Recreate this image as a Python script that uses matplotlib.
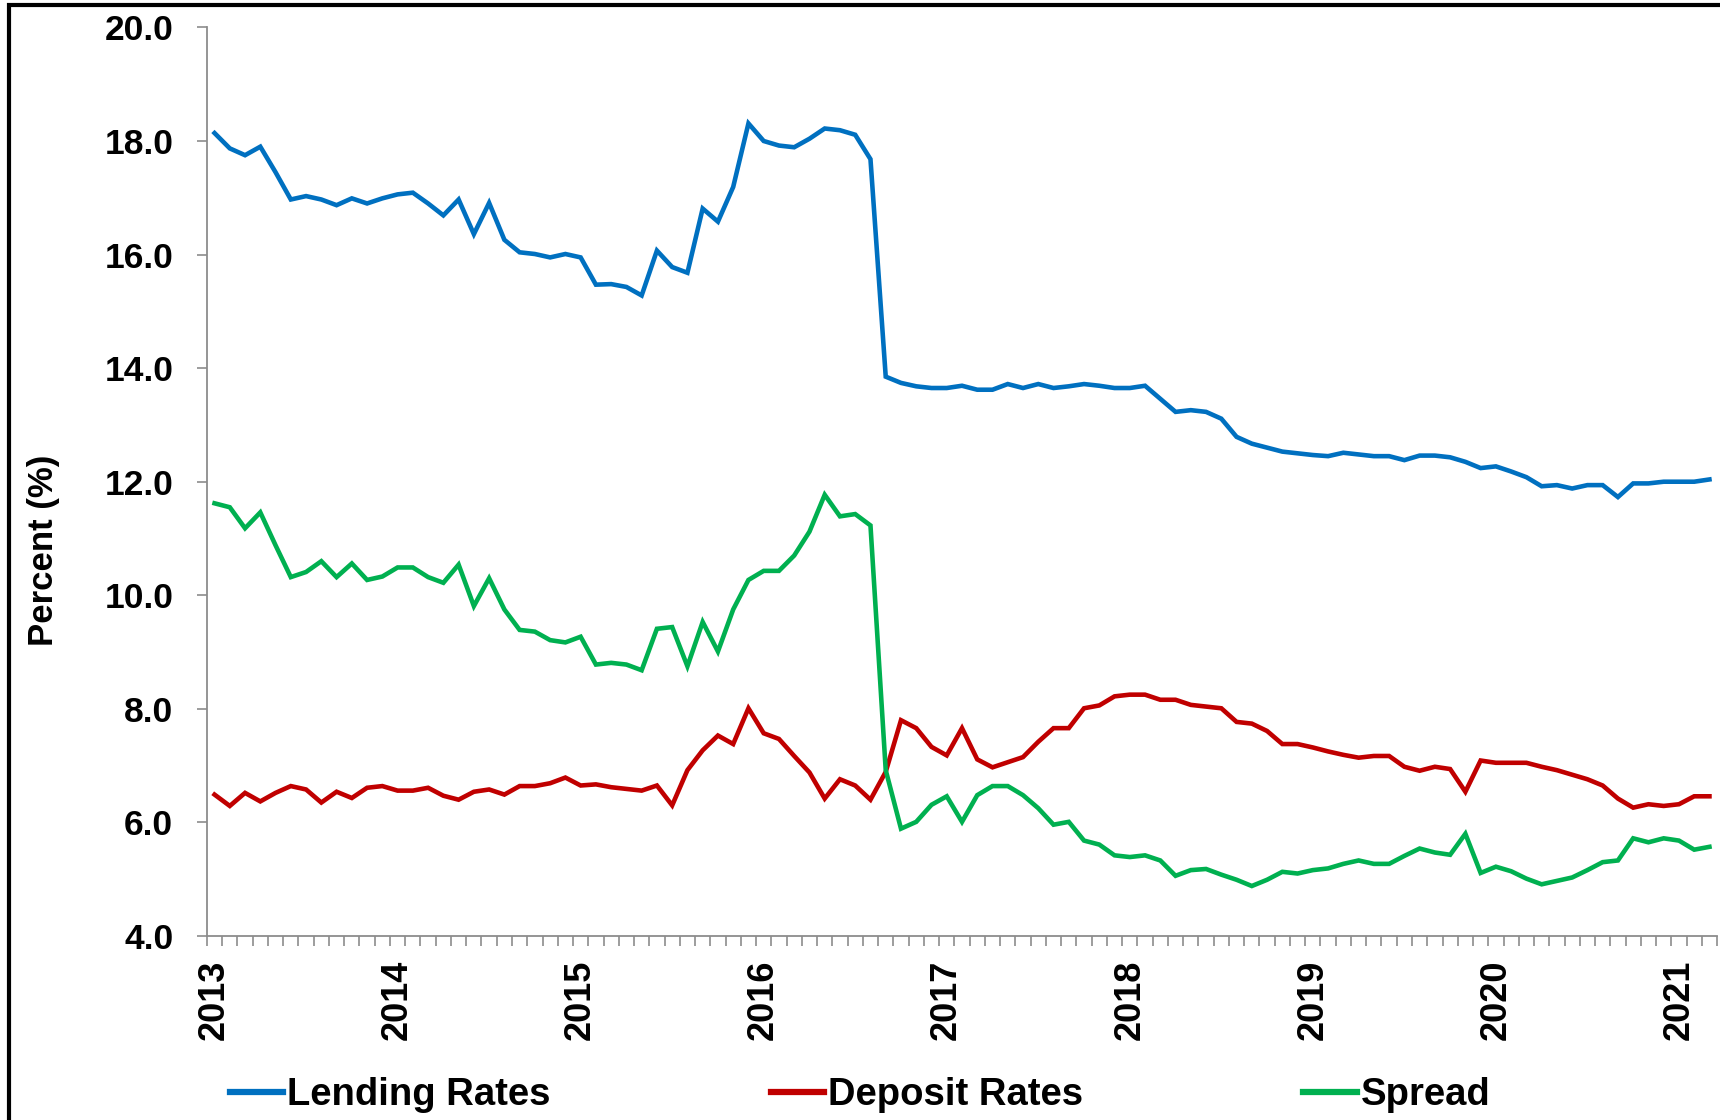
import numpy as np
import pandas as pd
import matplotlib
matplotlib.use('Agg')
import matplotlib.pyplot as plt
from matplotlib.patches import Rectangle

plt.rcParams['font.family'] = 'Liberation Sans'
plt.rcParams['font.weight'] = 'bold'

# monthly series, Jan 2013 - Mar 2021
months = pd.date_range('2013-01-01', periods=99, freq='MS')

lending = [18.14, 17.87, 17.75, 17.90, 17.45, 16.97, 17.03, 16.97, 16.87, 16.99, 16.90, 16.99,
           17.06, 17.09, 16.90, 16.69, 16.97, 16.36, 16.91, 16.26, 16.04, 16.01, 15.95, 16.01,
           15.95, 15.47, 15.48, 15.43, 15.28, 16.07, 15.78, 15.68, 16.81, 16.58, 17.19, 18.31,
           18.00, 17.92, 17.89, 18.04, 18.22, 18.19, 18.11, 17.68, 13.85, 13.74, 13.68, 13.65,
           13.65, 13.69, 13.62, 13.62, 13.72, 13.65, 13.72, 13.65, 13.68, 13.72, 13.69, 13.65,
           13.65, 13.69, 13.46, 13.23, 13.26, 13.23, 13.11, 12.79, 12.67, 12.60, 12.53, 12.50,
           12.47, 12.45, 12.51, 12.48, 12.45, 12.45, 12.38, 12.46, 12.46, 12.43, 12.35, 12.24,
           12.27, 12.18, 12.08, 11.92, 11.94, 11.88, 11.94, 11.94, 11.73, 11.97, 11.97, 12.00,
           12.00, 12.00, 12.04]

deposit = [6.49, 6.29, 6.52, 6.37, 6.52, 6.64, 6.58, 6.35, 6.54, 6.43, 6.61, 6.64,
           6.56, 6.56, 6.61, 6.47, 6.40, 6.54, 6.58, 6.49, 6.64, 6.64, 6.69, 6.79,
           6.65, 6.67, 6.62, 6.59, 6.56, 6.65, 6.30, 6.92, 7.27, 7.53, 7.38, 8.01,
           7.57, 7.47, 7.17, 6.88, 6.42, 6.76, 6.65, 6.40, 6.89, 7.80, 7.66, 7.33,
           7.18, 7.66, 7.11, 6.97, 7.06, 7.15, 7.42, 7.66, 7.66, 8.01, 8.06, 8.22,
           8.25, 8.25, 8.16, 8.16, 8.07, 8.04, 8.01, 7.77, 7.74, 7.61, 7.38, 7.38,
           7.32, 7.25, 7.19, 7.14, 7.17, 7.17, 6.98, 6.91, 6.98, 6.94, 6.54, 7.09,
           7.05, 7.05, 7.05, 6.98, 6.92, 6.84, 6.76, 6.65, 6.42, 6.26, 6.32, 6.29,
           6.32, 6.46, 6.46]

spread = [11.62, 11.55, 11.18, 11.46, 10.88, 10.32, 10.41, 10.60, 10.32, 10.56, 10.27, 10.33,
          10.49, 10.49, 10.32, 10.22, 10.54, 9.81, 10.30, 9.75, 9.39, 9.36, 9.21, 9.17,
          9.27, 8.78, 8.81, 8.78, 8.68, 9.41, 9.44, 8.75, 9.53, 9.01, 9.75, 10.27,
          10.43, 10.43, 10.70, 11.12, 11.77, 11.39, 11.43, 11.23, 6.92, 5.89, 6.01, 6.31,
          6.46, 6.01, 6.48, 6.64, 6.64, 6.48, 6.25, 5.96, 6.01, 5.68, 5.61, 5.42,
          5.39, 5.42, 5.33, 5.06, 5.16, 5.18, 5.08, 4.99, 4.88, 4.99, 5.13, 5.10,
          5.16, 5.19, 5.27, 5.33, 5.27, 5.27, 5.41, 5.54, 5.47, 5.43, 5.80, 5.11,
          5.22, 5.14, 5.01, 4.91, 4.97, 5.03, 5.16, 5.30, 5.33, 5.72, 5.65, 5.72,
          5.68, 5.52, 5.57]

labels = ['Lending Rates', 'Deposit Rates', 'Spread']
colors = ['#0070C0', '#C00000', '#00B050']

fig = plt.figure(figsize=(17.2, 11.2), dpi=100)
ax = fig.add_axes([0.1203, 0.1643, 0.878, 0.8112])

x = np.arange(len(months))
lines = []
for series, lab, col in zip([lending, deposit, spread], labels, colors):
    ln, = ax.plot(x, series, color=col, lw=3.3, label=lab, solid_joinstyle='miter')
    lines.append(ln)

ax.set_xlim(-0.5, len(months) - 0.5)
ax.set_ylim(4, 20)

grey = '#8c8c8c'
for side in ['top', 'right']:
    ax.spines[side].set_visible(False)
for side in ['left', 'bottom']:
    ax.spines[side].set_color(grey)
    ax.spines[side].set_linewidth(1.3)

ax.set_yticks(np.arange(4, 21, 2))
ax.set_yticklabels(['{:.1f}'.format(v) for v in np.arange(4, 21, 2)])
ax.tick_params(axis='y', direction='out', length=7.2, width=1.2, color=grey,
               pad=17, labelsize=25.5)

# year labels on January, tick marks between every month
jan = x[months.month == 1]
ax.set_xticks(jan)
ax.set_xticklabels([str(d.year) for d in months[jan]], rotation=90)
ax.tick_params(axis='x', which='major', length=0, pad=17, labelsize=26)
ax.set_xticks(np.arange(-0.5, len(months), 1), minor=True)
ax.tick_params(axis='x', which='minor', direction='out', length=7.2, width=1.2, color=grey)

ax.set_ylabel('Percent (%)', fontsize=25, fontweight='bold')
ax.yaxis.set_label_coords(-0.097, 0.425)

# one legend entry per series along the bottom
for ln, lab, xpos in zip(lines, labels, [0.1337, 0.448, 0.7576]):
    leg = fig.legend([ln], [lab], loc='center left', bbox_to_anchor=(xpos, 0.022),
                     frameon=False, fontsize=27.5, handlelength=1.4, handletextpad=0.1,
                     borderpad=0, borderaxespad=0)
    leg.get_lines()[0].set_linewidth(4.5)

# frame around the figure
fig.add_artist(Rectangle((9 / 1720, -0.1), 2, 1.1 - 5 / 1120, transform=fig.transFigure,
                         fill=False, lw=3, ec='black'))

fig.savefig('out.png', dpi=100)
